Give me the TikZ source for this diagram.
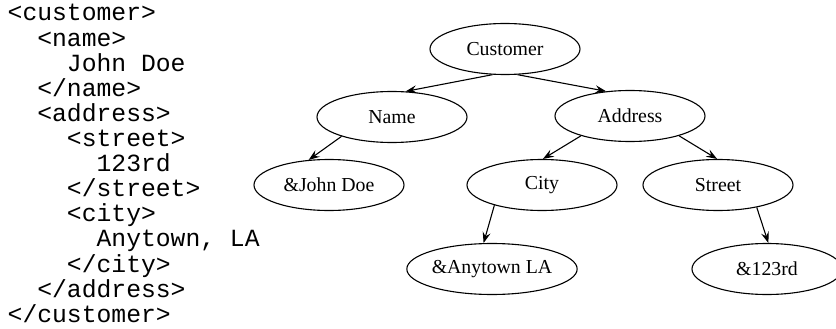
\documentclass[tikz,border=0pt]{standalone}
\usepackage{fontspec}
\setmainfont{Liberation Serif}
\setmonofont{Liberation Mono}
\usetikzlibrary{shapes.geometric, arrows.meta}
\tikzset{
  elem/.style={ellipse, draw, line width=1.1pt, minimum width=150pt, minimum height=51pt,
    inner sep=0pt, font=\fontsize{19.8}{22}\selectfont},
  xmlline/.style={anchor=base west, inner sep=0pt, font=\fontsize{24.7}{25}\ttfamily},
  edge/.style={line width=1.1pt, -{Stealth[length=11pt, width=8pt, inset=4pt]}}
}

\begin{document}
\begin{tikzpicture}[x=1pt, y=-1pt]
		\useasboundingbox (0,0) rectangle (836,329);
		% xml source
		\foreach \lvl/\txt [count=\i from 0] in {0/{<customer>}, 1/{<name>}, 2/{John Doe}, 1/{</name>},
		    1/{<address>}, 2/{<street>}, 3/{123rd}, 2/{</street>}, 2/{<city>}, 3/{Anytown, LA},
		    2/{</city>}, 1/{</address>}, 0/{</customer>}}
		  \node[xmlline] (x\i) at (7.5+29.64*\lvl, 21+25.1*\i) {\txt};
		% tree
		\node[elem] (cust) at (505,49) {Customer};
		\node[elem] (name) at (392,117) {Name};
		\node[elem] (addr) at (630,116) {Address};
		\node[elem] (john) at (329,185) {\&John Doe};
		\node[elem] (city) at (542,185) {City};
		\node[elem] (street) at (718,185) {Street};
		\node[elem] (anytown) at (492,269) {\&Anytown LA};
		\node[elem] (num) at (767,269) {\&123rd};
		% edges
		\draw[edge] (cust.244) -- (name.62);
		\draw[edge] (cust.296) -- (addr.134);
		\draw[edge] (name.201) -- (john.129);
		\draw[edge] (addr.202) -- (city.88);
		\draw[edge] (addr.338) -- (street.92);
		\draw[edge] (city.203) -- (anytown.108);
		\draw[edge] (street.330) -- (num.87);
	\end{tikzpicture}
\end{document}
